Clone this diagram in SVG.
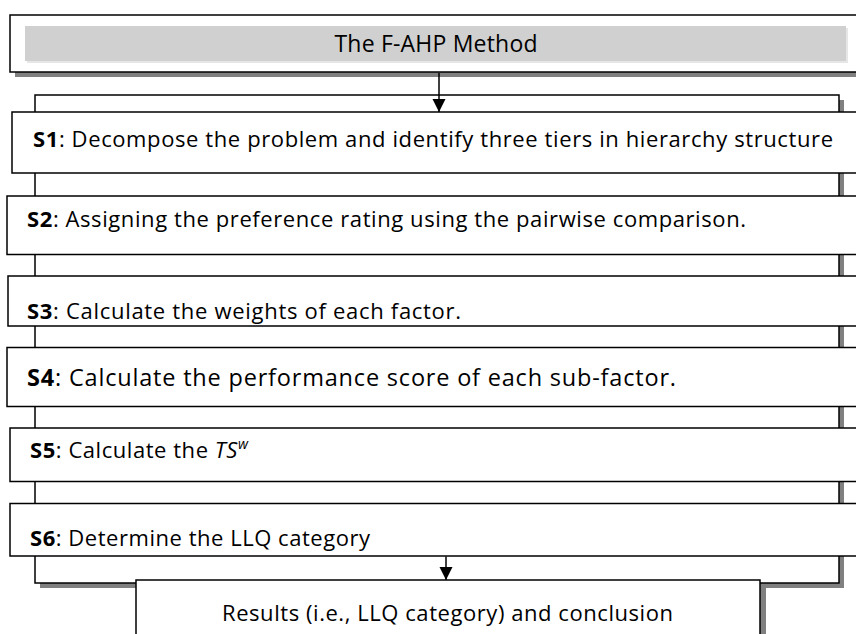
<svg xmlns="http://www.w3.org/2000/svg" width="856" height="634" viewBox="0 0 856 634">
  <defs>
    <style>
      .box { fill: #ffffff; stroke: #000000; stroke-width: 1.5; }
      .shadow { fill: #808080; }
      .bar { fill: #d0d0d0; }
      .bar-soft { fill: #e6e6e6; }
      .t { font-family: "Open Sans", "Liberation Sans", sans-serif; font-size: 22px; fill: #000000; }
      .title { font-size: 23px; }
      .wide { font-size: 23.5px; }
      .b { font-weight: bold; }
      .i { font-style: italic; }
      .sup { font-size: 14px; }
      .wire { fill: none; stroke: #000000; stroke-width: 1.5; }
    </style>
    <marker id="arrowhead" markerUnits="userSpaceOnUse" markerWidth="14" markerHeight="14" refX="13" refY="7" orient="auto">
      <path d="M0,0.5 L13,7 L0,13.5 Z" fill="#000000"/>
    </marker>
    <clipPath id="clip-s3">
      <rect x="8" y="276" width="860" height="49.5"/>
    </clipPath>
  </defs>

  <!-- Header: method title -->
  <g id="header">
    <rect class="shadow" x="15" y="20" width="860" height="57"/>
    <rect class="box" x="10" y="15" width="860" height="57"/>
    <rect class="bar-soft" x="27" y="28" width="821" height="35"/>
    <rect class="bar" x="25" y="26" width="821" height="35"/>
    <text class="t title" x="436" y="52" text-anchor="middle" textLength="203">The F-AHP Method</text>
  </g>

  <!-- Panel holding the six steps -->
  <g id="steps-panel">
    <rect class="shadow" x="40" y="100" width="804" height="488"/>
    <rect class="box" x="35" y="95" width="804" height="488"/>
  </g>

  <g id="step-s1">
    <rect class="box" x="12" y="112" width="860" height="61"/>
    <text class="t" x="33" y="147" textLength="800"><tspan class="b">S1</tspan>: Decompose the problem and identify three tiers in hierarchy structure</text>
  </g>

  <g id="step-s2">
    <rect class="box" x="7" y="196" width="865" height="58.5"/>
    <text class="t" x="27" y="226.5" textLength="719"><tspan class="b">S2</tspan>: Assigning the preference rating using the pairwise comparison.</text>
  </g>

  <g id="step-s3">
    <rect class="box" x="8" y="276" width="864" height="50"/>
    <text class="t" x="27" y="319" textLength="434" clip-path="url(#clip-s3)"><tspan class="b">S3</tspan>: Calculate the weights of each factor.</text>
  </g>

  <g id="step-s4">
    <rect class="box" x="7" y="347.5" width="865" height="59"/>
    <text class="t wide" x="27" y="386" textLength="649"><tspan class="b">S4</tspan>: Calculate the performance score of each sub-factor.</text>
  </g>

  <g id="step-s5">
    <rect class="box" x="10" y="428" width="862" height="53.5"/>
    <text class="t" x="30" y="457.5" textLength="218"><tspan class="b">S5</tspan>: Calculate the <tspan class="i">TS</tspan><tspan class="i sup" dy="-9">w</tspan></text>
  </g>

  <g id="step-s6">
    <rect class="box" x="10" y="503.5" width="862" height="52.5"/>
    <text class="t" x="30" y="546" textLength="340"><tspan class="b">S6</tspan>: Determine the LLQ category</text>
  </g>

  <!-- Outcome -->
  <g id="results">
    <rect class="shadow" x="141" y="585" width="625" height="60"/>
    <rect class="box" x="136" y="580" width="624" height="70"/>
    <text class="t" x="222" y="621" textLength="451">Results (i.e., LLQ category) and conclusion</text>
  </g>

  <!-- Flow arrows -->
  <g id="connectors">
    <line class="wire" x1="439" y1="73" x2="439" y2="112" marker-end="url(#arrowhead)"/>
    <line class="wire" x1="446" y1="556.5" x2="446" y2="580" marker-end="url(#arrowhead)"/>
  </g>
</svg>
